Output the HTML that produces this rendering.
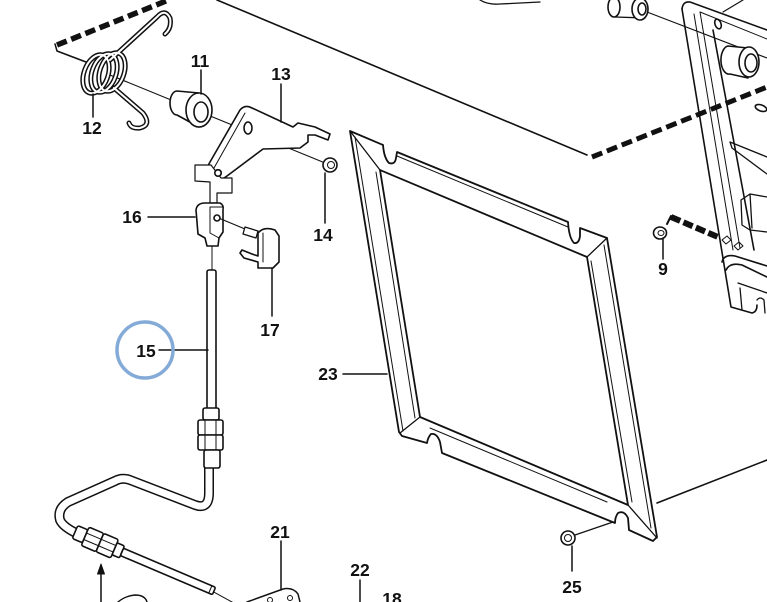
<!DOCTYPE html>
<html><head><meta charset="utf-8"><style>
html,body{margin:0;padding:0;background:#fff;}
svg{display:block}
text{font-family:"Liberation Sans",Arial,sans-serif;font-weight:bold;font-size:17.5px;fill:#111;text-anchor:middle}
</style></head><body>
<svg width="767" height="602" viewBox="0 0 767 602" xmlns="http://www.w3.org/2000/svg">
<g fill="none" stroke="#111" stroke-width="1.6" stroke-linecap="round" stroke-linejoin="round">
<!-- box edges -->
<path d="M217,0 L587,155"/>
<path d="M657,503 L767,460"/>

<!-- right mechanism plate -->
<path d="M682,9 Q683,1 690,2 L767,30"/>
<path d="M700,12 L767,39" stroke-width="1"/>
<path d="M682,9 L731,307 L752,313 Q757,312 757,305"/>
<path d="M694,14 L733,250" stroke-width="1"/>
<path d="M700,12 L740,248" stroke-width="1"/>
<path d="M713,30 L754,250"/>
<path d="M723,12 L743,0" stroke-width="1.2"/>
<ellipse cx="718" cy="24" rx="3" ry="5" transform="rotate(-20 718 24)"/>
<path d="M647,12 L767,58" stroke-width="1.2"/>
<path d="M728,46 L748,48 L748,78 L730,74 A8,14 0 0 1 728,46 Z" fill="#fff"/>
<ellipse cx="749" cy="62" rx="10" ry="15" fill="#fff"/>
<ellipse cx="751" cy="63" rx="6" ry="9"/>
<path d="M730,142 L767,157 M732,148 L767,174 M730,142 L732,148" stroke-width="1.3"/>
<ellipse cx="761" cy="108" rx="6" ry="3" transform="rotate(20 761 108)"/>
<path d="M741,200 L750,194 L767,197 M741,200 L742,225 L750,230 L767,232 M750,194 L752,228" stroke-width="1.3"/>
<path d="M722,240 l5,-4 l4,4 l-5,4 Z M734,246 l5,-4 l4,4 l-5,4 Z" stroke-width="1"/>
<path d="M722,262 Q724,254 735,256 L767,266 M726,270 Q730,262 742,265 L767,277"/>
<path d="M738,283 L767,293 M740,288 L742,310" stroke-width="1.3"/>
<path d="M757,300 Q760,296 764,300 L765,313" stroke-width="1.3"/>

<!-- top right bushing & shape -->
<path d="M480,0 Q488,5 500,4 L540,2" stroke-width="1.3"/>
<path d="M610,-2 L640,-2 L645,18 L615,17 Z" fill="#fff" stroke-width="1.3"/>
<ellipse cx="614" cy="7" rx="6" ry="10" fill="#fff"/>
<ellipse cx="640" cy="9" rx="8" ry="11" fill="#fff"/>
<ellipse cx="642" cy="9" rx="4" ry="6"/>

<!-- dashed lines -->
<path d="M592,157 L767,87" stroke-width="5" stroke-dasharray="11 5" stroke-linecap="butt"/>
<path d="M57,45 L166,1" stroke-width="5.5" stroke-dasharray="10.5 4.8" stroke-linecap="butt"/>
<path d="M55,44 L57,51 L86,62" stroke-width="1.5"/>
<path d="M671,217 L718,237" stroke-width="6" stroke-dasharray="10 3.5" stroke-linecap="butt"/>
<path d="M671,216 L667,224" stroke-width="2"/>

<!-- nut 9 -->
<ellipse cx="660" cy="233" rx="6.5" ry="6" fill="#fff"/>
<ellipse cx="661" cy="233" rx="3" ry="2.5" stroke-width="1"/>

<!-- frame 23 -->
<path d="M350,131 L383,145 Q384,158 389,163 Q395,165 396,158 L397,152 L568,222 Q569,238 574,243 Q579,244 580,236 L580,228 L607,238 L657,537 L653,541 L629,530 L628,518 Q624,510 618,513 Q615,517 615,523 L442,453 L440,442 Q437,433 431,434 Q428,437 427,443 L402,436 L399,432 Z" fill="#fff" stroke-width="1.8"/>
<path d="M380,170 L587,257 L628,505 L420,417 Z" stroke-width="1.8"/>
<path d="M350,131 L380,170 M607,238 L587,257 M657,538 L628,505 M400,433 L420,417" stroke-width="1.3"/>
<path d="M397,156 L568,227" stroke-width="1"/>
<path d="M430,428 L607,502" stroke-width="1"/>
<path d="M604,245 L651,528" stroke-width="1"/>
<path d="M355,137 L403,431" stroke-width="1"/>
<path d="M376,172 L415,418" stroke-width="1"/>
<path d="M591,261 L632,502" stroke-width="1"/>

<!-- nut 25 -->
<path d="M575,535 L613,522" stroke-width="1.2"/>
<circle cx="568" cy="538" r="7" fill="#fff"/>
<circle cx="568" cy="538" r="3.5" stroke-width="1"/>

<!-- axis line -->
<path d="M110,75 L330,165" stroke-width="1.1"/>

<!-- spring 12 -->
<g stroke-width="5">
<ellipse cx="96" cy="74" rx="12" ry="20" transform="rotate(20 96 74)"/>
<ellipse cx="104" cy="73" rx="12" ry="20" transform="rotate(20 104 73)"/>
<ellipse cx="112" cy="72" rx="12" ry="20" transform="rotate(20 112 72)"/>
<path d="M110,60 L157,17 Q165,8 170,18 Q172,28 165,34"/>
<path d="M114,88 L143,113 Q152,125 140,128 Q131,129 129,123"/>
</g>
<g stroke="#fff" stroke-width="2">
<ellipse cx="96" cy="74" rx="12" ry="20" transform="rotate(20 96 74)"/>
<ellipse cx="104" cy="73" rx="12" ry="20" transform="rotate(20 104 73)"/>
<ellipse cx="112" cy="72" rx="12" ry="20" transform="rotate(20 112 72)"/>
<path d="M110,60 L157,17 Q165,8 170,18 Q172,28 165,34"/>
<path d="M114,88 L143,113 Q152,125 140,128 Q131,129 129,123"/>
</g>

<!-- bushing 11 -->
<path d="M177,91 L199,93 L199,127 L177,115 A7,12 0 0 1 177,91 Z" fill="#fff"/>
<ellipse cx="199" cy="110" rx="13" ry="17" fill="#fff"/>
<ellipse cx="201" cy="112" rx="7" ry="10"/>

<!-- lever 13 -->
<path d="M240,110 Q245,104 252,108 L293,127 L298,123 L315,127 L330,134 L328,140 L315,135 L308,135 L308,142 L300,148 L263,149 L227,176 Q217,184 209,176 Q205,170 210,162 Z" fill="#fff"/>
<path d="M214,168 L245,113" stroke-width="1"/>
<ellipse cx="248" cy="128" rx="4" ry="6"/>
<circle cx="218" cy="173" r="3.2"/>
<!-- nut 14 -->
<circle cx="330" cy="165" r="7" fill="#fff"/>
<circle cx="331" cy="165" r="3.5" stroke-width="1"/>

<!-- tag/flag -->
<path d="M195,165 L211,165 L221,178 L232,178 L232,193 L217,193 L217,203 L210,203 L210,182 L195,181 Z" fill="#fff" stroke-width="1.2"/>
<circle cx="218" cy="173" r="3.2" fill="#fff"/>

<!-- clevis 16 -->
<path d="M196,210 Q197,203 205,203 L220,203 Q224,205 223,210 L223,232 L219,238 L218,246 L207,246 L205,238 L198,234 Z" fill="#fff"/>
<path d="M210,207 L223,207 M210,207 L210,233 L219,238" stroke-width="1"/>
<circle cx="217" cy="218" r="3"/>
<path d="M212,246 L212,270" stroke-width="1"/>
<!-- pin & clip 17 -->
<path d="M221,219 L245,229" stroke-width="1.2"/>
<path d="M245,227 L258,231 L256,238 L243,234 Z" fill="#fff" stroke-width="1.3"/>
<path d="M258,233 Q264,226 275,230 L279,236 L279,262 L273,268 L258,268 L258,262 L244,258 L240,253 L242,250 L252,254 L258,256 Z" fill="#fff"/>
<path d="M263,233 L263,262" stroke-width="1"/>

<!-- rod 15 -->
<rect x="207" y="270" width="9" height="140" rx="2" fill="#fff"/>
<!-- bent pipe -->
<path d="M209,468 L209,493 Q209,510 195,505 L130,480 Q122,477 115,481 L68,502 Q57,509 60,520 Q63,527 78,534" stroke-width="10"/>
<path d="M209,468 L209,493 Q209,510 195,505 L130,480 Q122,477 115,481 L68,502 Q57,509 60,520 Q63,527 78,534" stroke="#fff" stroke-width="7"/>
<rect x="203" y="408" width="16" height="12" rx="2" fill="#fff"/>
<rect x="198" y="420" width="25" height="15" rx="2" fill="#fff"/>
<path d="M205,420 L205,435 M216,420 L216,435" stroke-width="1"/>
<rect x="198" y="435" width="25" height="15" rx="2" fill="#fff"/>
<path d="M205,435 L205,450 M216,435 L216,450" stroke-width="1"/>
<rect x="204" y="450" width="16" height="18" rx="2" fill="#fff"/>

<!-- diagonal fittings -->
<g transform="translate(75,532) rotate(23)">
<rect x="0" y="-7" width="11" height="14" rx="2" fill="#fff"/>
<rect x="11" y="-10" width="16" height="20" rx="2" fill="#fff"/>
<path d="M11,-3.5 L27,-3.5 M11,3.5 L27,3.5" stroke-width="1"/>
<rect x="27" y="-10" width="16" height="20" rx="2" fill="#fff"/>
<path d="M27,-3.5 L43,-3.5 M27,3.5 L43,3.5" stroke-width="1"/>
<rect x="43" y="-6.5" width="8" height="13" rx="1.5" fill="#fff"/>
<rect x="51" y="-4" width="100" height="8" rx="1.5" fill="#fff"/>
<path d="M147,-4 L147,4" stroke-width="1"/>
<path d="M151,1 L181,4" stroke-width="1"/>
</g>

<!-- arrow -->
<path d="M101,602 L101,572" stroke-width="1.5"/>
<path d="M101,564 L97.5,574 L104.5,574 Z" fill="#111" stroke-width="1"/>

<!-- bottom parts -->
<path d="M118,602 Q125,596 135,595 Q145,595 147,602" stroke-width="1.4"/>
<path d="M247,602 L283,589 Q293,587 298,594 L300,602" stroke-width="1.5"/>
<circle cx="270" cy="600" r="2.5" stroke-width="1"/>
<circle cx="290" cy="598" r="2.5" stroke-width="1"/>

<!-- leader lines -->
<g stroke-width="1.5">
<path d="M201,70 L201,94"/>
<path d="M93,94 L93,117"/>
<path d="M281,84 L281,122"/>
<path d="M325,173 L325,223"/>
<path d="M148,217 L195,217"/>
<path d="M272,268 L272,316"/>
<path d="M159,350 L208,350"/>
<path d="M343,374 L387,374"/>
<path d="M663,238 L663,259"/>
<path d="M281,541 L281,590"/>
<path d="M360,580 L360,602"/>
<path d="M572,546 L572,571"/>
</g>
</g>

<!-- highlight circle -->
<circle cx="145" cy="350" r="28" fill="none" stroke="#84abd8" stroke-width="3.5"/>

<!-- labels -->
<text x="200" y="67">11</text>
<text x="92" y="134">12</text>
<text x="281" y="80">13</text>
<text x="323" y="241">14</text>
<text x="132" y="223">16</text>
<text x="146" y="357">15</text>
<text x="270" y="336">17</text>
<text x="328" y="380">23</text>
<text x="663" y="275">9</text>
<text x="280" y="538">21</text>
<text x="360" y="576">22</text>
<text x="392" y="605">18</text>
<text x="572" y="593">25</text>
</svg>
</body></html>
